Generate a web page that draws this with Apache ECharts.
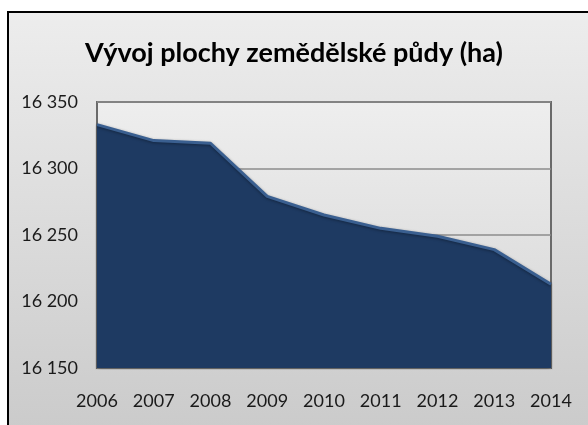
<!DOCTYPE html>
<html>
<head>
<meta charset="utf-8">
<script src="https://cdn.jsdelivr.net/npm/echarts@6/dist/echarts.min.js"></script>
<style>
  html, body { margin: 0; padding: 0; background: #fff; }
  #chart { width: 588px; height: 425px; }
</style>
</head>
<body>
<div id="chart"></div>
<script>
// data
var years = ['2006', '2007', '2008', '2009', '2010', '2011', '2012', '2013', '2014']
var area = [16333, 16321, 16319, 16279, 16265, 16255, 16249, 16239, 16213]
var yTicks = [16150, 16200, 16250, 16300, 16350]
var title = 'Vývoj plochy zemědělské půdy (ha)'

var chart = echarts.init(document.getElementById('chart'))

function fmt(v) {
    var s = String(v)
    return s.slice(0, s.length - 3) + ' ' + s.slice(-3)
}

chart.setOption({
    animation: false,
    graphic: [
        {
            type: 'rect',
            z: -10,
            shape: { x: 8, y: 12, width: 600, height: 440 },
            style: {
                fill: new echarts.graphic.LinearGradient(0, 0, 0, 1, [
                    { offset: 0, color: '#ededed' },
                    { offset: 1, color: '#c9c9c9' }
                ]),
                stroke: '#000',
                lineWidth: 2
            }
        },
        {
            type: 'rect',
            z: -9,
            shape: { x: 97, y: 102, width: 454, height: 266 },
            style: {
                fill: new echarts.graphic.LinearGradient(0, 0, 0, 1, [
                    { offset: 0, color: '#eeeeee' },
                    { offset: 1, color: '#d6d6d6' }
                ])
            }
        }
    ],
    title: {
        text: title,
        left: 'center',
        top: 35,
        textStyle: {
            fontFamily: 'Lato',
            fontWeight: 'bold',
            fontSize: 27,
            color: '#000'
        }
    },
    grid: {
        left: 97,
        right: 37,
        top: 102,
        bottom: 57,
        show: true,
        borderColor: '#6a6a6a',
        borderWidth: 2,
        backgroundColor: 'transparent'
    },
    xAxis: {
        type: 'category',
        data: years,
        boundaryGap: false,
        axisLine: { show: false },
        axisTick: { show: false },
        axisLabel: {
            margin: 24,
            fontFamily: 'Lato',
            fontSize: 18,
            color: '#1a1a1a'
        }
    },
    yAxis: {
        type: 'value',
        min: yTicks[0],
        max: yTicks[yTicks.length - 1],
        interval: 50,
        axisLine: { show: false },
        axisTick: { show: false },
        splitLine: { lineStyle: { color: '#8c8c8c', width: 1.5 } },
        axisLabel: {
            margin: 19,
            fontFamily: 'Lato',
            fontSize: 18,
            color: '#1a1a1a',
            formatter: fmt
        }
    },
    series: [
        {
            type: 'line',
            data: area,
            symbol: 'none',
            lineStyle: {
                color: '#3a5f90',
                width: 3,
                shadowColor: 'rgba(0,0,0,0.35)',
                shadowBlur: 3,
                shadowOffsetY: 1
            },
            areaStyle: {
                color: '#1e3a62',
                opacity: 1,
                shadowColor: 'rgba(0,0,0,0.35)',
                shadowBlur: 4,
                shadowOffsetY: 2
            },
            z: 3
        }
    ]
})
</script>
</body>
</html>
